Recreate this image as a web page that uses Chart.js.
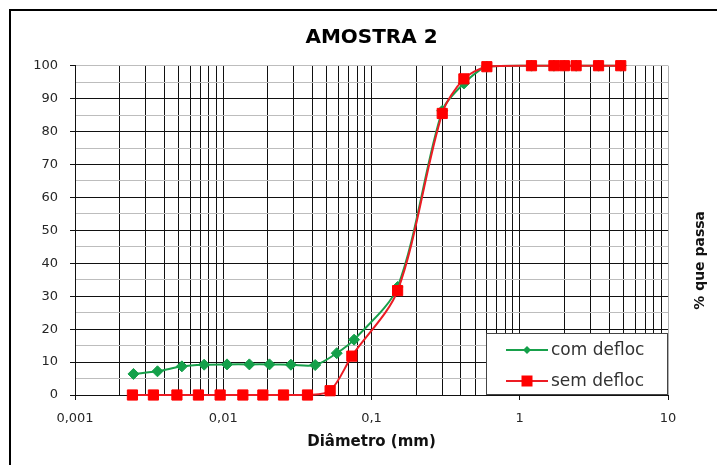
<!DOCTYPE html>
<html>
<head>
<meta charset="utf-8">
<script src="https://cdn.jsdelivr.net/npm/chart.js@4.4.1/dist/chart.umd.min.js"></script>
<style>
  html, body { margin: 0; padding: 0; background: #fff; }
  #caixa { width: 717px; height: 465px; }
</style>
</head>
<body>
<div id="caixa"><canvas id="grafico"></canvas></div>
<script>
// granulometria - com defloculante
var diamCom = [0.00248, 0.0036, 0.00526, 0.00743, 0.0106, 0.015, 0.0205, 0.0286, 0.0417, 0.0583, 0.0763,
               0.15, 0.30, 0.42, 0.60, 1.2, 1.7, 2.0, 2.4, 3.4, 4.8];
var passaCom = [6.4, 7.2, 8.7, 9.2, 9.3, 9.3, 9.3, 9.2, 9.1, 12.7, 16.8,
                32.8, 86.3, 94.6, 99.7, 100, 100, 100, 100, 100, 100];

// granulometria - sem defloculante
var diamSem = [0.00244, 0.00338, 0.00487, 0.0068, 0.00953, 0.01356, 0.0185, 0.0255, 0.037, 0.0526, 0.0737,
               0.15, 0.30, 0.42, 0.60, 1.2, 1.7, 2.0, 2.4, 3.4, 4.8];
var passaSem = [0, 0, 0, 0, 0, 0, 0, 0, 0, 1.3, 11.8,
                31.7, 85.5, 96.0, 99.7, 100, 100, 100, 100, 100, 100];

var decadas = [0.001, 0.01, 0.1, 1, 10];
var rotulosX = ['0,001', '0,01', '0,1', '1', '10'];

function pontos(xs, ys) {
    var p = [];
    for (var i = 0; i < xs.length; i++) {
        p.push({x: xs[i], y: ys[i]});
    }
    return p;
}

// linhas verticais: 1..9 em cada década
function linhasX() {
    var v = [];
    for (var e = -3; e < 1; e++) {
        for (var s = 1; s < 10; s++) {
            v.push(parseFloat((s * Math.pow(10, e)).toPrecision(6)));
        }
    }
    v.push(10);
    return v;
}

function ehDecada(v) {
    var l = Math.log10(v);
    return Math.abs(l - Math.round(l)) < 1e-9;
}

var moldura = {
    id: 'moldura',
    beforeDraw: function(chart) {
        var ctx = chart.ctx;
        ctx.save();
        ctx.fillStyle = '#fff';
        ctx.fillRect(0, 0, chart.width, chart.height);
        ctx.strokeStyle = '#000';
        ctx.lineWidth = 2;
        ctx.strokeRect(10, 10, chart.width + 20, chart.height + 20);
        ctx.restore();
    },
    afterDraw: function(chart) {
        var ctx = chart.ctx, a = chart.chartArea;
        ctx.save();
        // titulo centrado sobre a area do grafico
        ctx.fillStyle = '#000';
        ctx.font = 'bold 20px "DejaVu Sans"';
        ctx.textAlign = 'center';
        ctx.textBaseline = 'middle';
        ctx.fillText('AMOSTRA 2', (a.left + a.right) / 2, 38);
        // titulo do eixo y do lado direito
        ctx.translate(700, (a.top + a.bottom) / 2 + 30);
        ctx.rotate(-Math.PI / 2);
        ctx.fillStyle = '#111';
        ctx.font = 'bold 14px "DejaVu Sans"';
        ctx.fillText('% que passa', 0, 0);
        ctx.restore();
    }
};

var legendaDentro = {
    id: 'legendaDentro',
    afterDatasetsDraw: function(chart) {
        var ctx = chart.ctx, a = chart.chartArea;
        var w = 182, h = 62;
        var x0 = a.right - w, y0 = a.bottom - h;
        ctx.save();
        ctx.fillStyle = '#fff';
        ctx.fillRect(x0, y0, w, h);
        ctx.strokeStyle = '#444';
        ctx.lineWidth = 1;
        ctx.strokeRect(x0 + 0.5, y0 + 0.5, w - 1, h - 1);
        chart.data.datasets.forEach(function(ds, i) {
            var y = y0 + 17 + i * 31;
            var cx = x0 + 41;
            ctx.strokeStyle = ds.borderColor;
            ctx.lineWidth = 2;
            ctx.beginPath();
            ctx.moveTo(x0 + 20, y);
            ctx.lineTo(x0 + 62, y);
            ctx.stroke();
            ctx.fillStyle = ds.pointBackgroundColor;
            ctx.beginPath();
            if (ds.pointStyle === 'rectRot') {
                ctx.moveTo(cx, y - 4);
                ctx.lineTo(cx + 4, y);
                ctx.lineTo(cx, y + 4);
                ctx.lineTo(cx - 4, y);
                ctx.closePath();
            } else {
                ctx.rect(cx - 5.5, y - 5.5, 11, 11);
            }
            ctx.fill();
            ctx.fillStyle = '#333';
            ctx.font = '17px "DejaVu Sans"';
            ctx.textAlign = 'left';
            ctx.textBaseline = 'middle';
            ctx.fillText(ds.label, x0 + 65, y + 1);
        });
        ctx.restore();
    }
};

var grafico = new Chart(document.getElementById('grafico').getContext('2d'), {
    type: 'line',
    data: {
        datasets: [
            {
                label: 'com defloc',
                data: pontos(diamCom, passaCom),
                borderColor: '#18a04b',
                backgroundColor: '#18a04b',
                pointBackgroundColor: '#14a04a',
                pointBorderColor: '#14a04a',
                pointStyle: 'rectRot',
                pointRadius: 5.5,
                pointBorderWidth: 1,
                borderWidth: 2,
                tension: 0.3,
                clip: false,
                order: 2
            },
            {
                label: 'sem defloc',
                data: pontos(diamSem, passaSem),
                borderColor: '#ec1c24',
                backgroundColor: '#ec1c24',
                pointBackgroundColor: '#ff0000',
                pointBorderColor: '#ff0000',
                pointStyle: 'rect',
                pointRadius: 7.2,
                pointBorderWidth: 1,
                borderWidth: 2,
                tension: 0.3,
                clip: false,
                order: 1
            }
        ]
    },
    options: {
        responsive: true,
        maintainAspectRatio: false,
        animation: false,
        devicePixelRatio: 1,
        layout: { padding: { left: 0, right: 49, top: 65.7, bottom: 0 } },
        plugins: {
            legend: { display: false },
            tooltip: { enabled: false },
            title: { display: false }
        },
        scales: {
            x: {
                type: 'logarithmic',
                min: 0.001,
                max: 10,
                afterFit: function(scale) { scale.height = 70; },
                afterBuildTicks: function(scale) {
                    scale.ticks = linhasX().map(function(v) { return {value: v}; });
                },
                ticks: {
                    autoSkip: false,
                    maxRotation: 0,
                    padding: 11,
                    color: '#262626',
                    font: { family: '"DejaVu Sans"', size: 13 },
                    callback: function(value) {
                        for (var i = 0; i < decadas.length; i++) {
                            if (Math.abs(decadas[i] - value) < 1e-9) return rotulosX[i];
                        }
                        return '';
                    }
                },
                grid: {
                    color: function(c) { return c.tick && c.tick.value === 10 ? '#b0b0b0' : '#111'; },
                    tickColor: function(c) { return c.tick && ehDecada(c.tick.value) ? '#111' : 'rgba(0,0,0,0)'; },
                    tickLength: 5,
                    lineWidth: 1
                },
                border: { color: '#111', width: 1 },
                title: {
                    display: true,
                    text: 'Diâmetro (mm)',
                    color: '#111',
                    font: { family: '"DejaVu Sans"', size: 15, weight: 'bold', lineHeight: 1.2 },
                    padding: { top: 0, bottom: 14 }
                }
            },
            y: {
                min: 0,
                max: 100,
                afterFit: function(scale) { scale.width = 75; },
                ticks: {
                    stepSize: 5,
                    autoSkip: false,
                    padding: 12,
                    color: '#262626',
                    font: { family: '"DejaVu Sans"', size: 13 },
                    callback: function(value) { return value % 10 === 0 ? String(value) : ''; }
                },
                grid: {
                    color: function(c) {
                        if (!c.tick) return '#111';
                        return (c.tick.value % 10 !== 0 || c.tick.value === 100) ? '#bdbdbd' : '#111';
                    },
                    tickColor: function(c) { return c.tick && c.tick.value % 10 === 0 ? '#111' : 'rgba(0,0,0,0)'; },
                    tickLength: 5,
                    lineWidth: 1
                },
                border: { color: '#111', width: 1 }
            }
        }
    },
    plugins: [moldura, legendaDentro]
});
</script>
</body>
</html>
